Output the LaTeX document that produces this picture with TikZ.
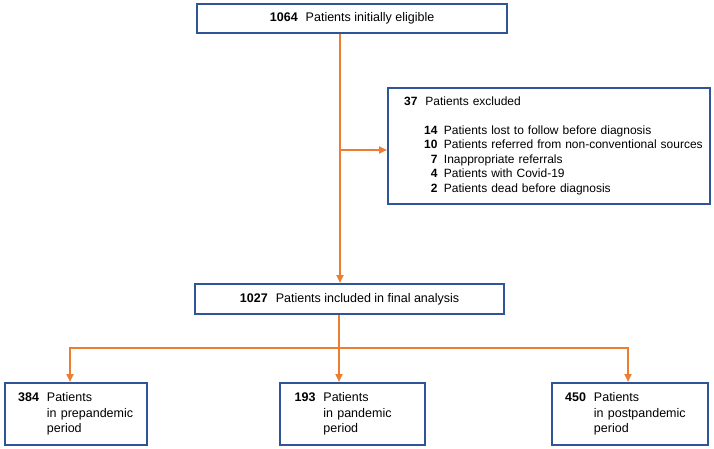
\documentclass[tikz,border=0pt]{standalone}
\usepackage{fontspec}
\setmainfont{Liberation Sans}
\usepackage{color}
\usetikzlibrary{positioning, arrows.meta}
\definecolor{flowline}{RGB}{237,125,49}
\definecolor{boxline}{RGB}{47,85,151}

\begin{document}
\begin{tikzpicture}[x=1pt, y=-1pt, >={Triangle[length=8pt,width=7pt]}, font=\fontsize{12.5}{14.5}\selectfont]
			\tikzstyle{box}=[draw=boxline, line width=2.2pt, fill=white, inner ysep=0pt]
			\tikzstyle{group}=[box, anchor=north west, minimum height=62, inner xsep=13pt, text width=116pt, align=left, font=\fontsize{12.5}{15.5}\selectfont]
			\tikzstyle{flow}=[draw=flowline, line width=2.2pt]
			\useasboundingbox (0,0) rectangle (714,449);
			
			\node[box, anchor=north west, minimum width=310, minimum height=29] (elig) at (196,3)
			{\textbf{1064}\hspace{8pt}Patients initially eligible};
			\node[box, anchor=north west, minimum width=322, minimum height=116, inner xsep=16pt, text width=290pt, align=left, font=\fontsize{12}{14.5}\selectfont] (excl) at (387,87)
			{\begin{tabular}{@{}l@{}r@{\hspace{6.5pt}}l@{}}
					\multicolumn{3}{@{}l@{}}{\textbf{37}\hspace{8pt}Patients excluded}\\
					\\
					\hspace*{20pt} & \textbf{14} & Patients lost to follow before diagnosis\\
					& \textbf{10} & Patients referred from non-conventional sources\\
					& \textbf{7} & Inappropriate referrals\\
					& \textbf{4} & Patients with Covid-19\\
					& \textbf{2} & Patients dead before diagnosis
			\end{tabular}};
			\node[box, anchor=north west, minimum width=309, minimum height=30] (final) at (194,283)
			{\textbf{1027}\hspace{8pt}Patients included in final analysis};
			
			% periods
			\node[group, minimum width=142] (pre) at (4,382)
			{\begin{tabular}{@{}l@{\hspace{8pt}}l@{}}\textbf{384} & Patients\\ & in prepandemic\\ & period\end{tabular}};
			\node[group, minimum width=145] (pan) at (279,382)
			{\begin{tabular}{@{}l@{\hspace{8pt}}l@{}}\textbf{193} & Patients\\ & in pandemic\\ & period\end{tabular}};
			\node[group, minimum width=156, text width=130pt] (post) at (551,382)
			{\begin{tabular}{@{}l@{\hspace{8pt}}l@{}}\textbf{450} & Patients\\ & in postpandemic\\ & period\end{tabular}};
			
			\coordinate (trunk) at (340,150);
			\coordinate (hub) at (339,348);
			\coordinate (preTap) at (70,348);
			\coordinate (postTap) at (628,348);
			
			\draw[flow, ->] (elig.south -| trunk) -- (final.north -| trunk);
			\draw[flow, ->] (trunk) -- (trunk -| excl.west);
			\draw[flow] (final.south -| hub) -- (hub);
			\draw[flow, ->] (hub) -- (pan.north -| hub);
			\draw[flow, ->] (hub) -- (preTap) -- (pre.north -| preTap);
			\draw[flow, ->] (hub) -- (postTap) -- (post.north -| postTap);
		\end{tikzpicture}
\end{document}
